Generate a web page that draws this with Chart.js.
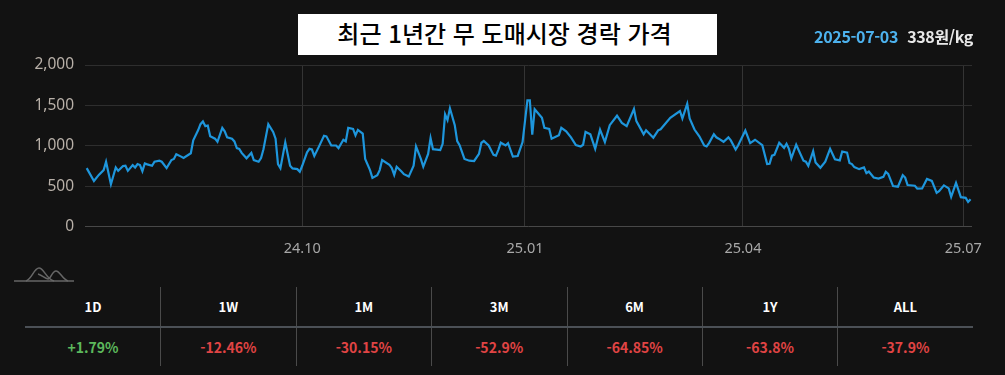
<!DOCTYPE html>
<html lang="ko">
<head>
<meta charset="utf-8">
<script src="https://cdn.jsdelivr.net/npm/chart.js@4"></script>
<style>
  html, body { margin: 0; padding: 0; background: #121212; }
  body { width: 1005px; height: 375px; position: relative; overflow: hidden; font-family: "Noto Sans CJK KR", "Noto Sans", sans-serif; }
  #priceChart { position: absolute; left: 0; top: 0; }
  #title { position: absolute; left: 298px; top: 14px; width: 413px; padding-right: 6px; height: 41px; background: #fff; color: #000; font-size: 24px; font-weight: 500; line-height: 38px; text-align: center; }
  #latest { position: absolute; right: 32px; top: 26px; font-size: 16px; line-height: 20px; font-weight: 700; letter-spacing: -0.35px; color: #e8e8e8; }
  #latest span { color: #4db2ee; margin-right: 5px; }
  #logo { position: absolute; left: 14px; top: 265px; }
  #periods { position: absolute; left: 25px; top: 287px; width: 948px; height: 79px; }
  .cell { position: absolute; top: 0; width: 136px; height: 79px; text-align: center; }
  .cell + .cell::before { content: ""; position: absolute; left: 0; top: 0; width: 1px; height: 79px; background: #4a4a4a; }
  .cell b { display: block; height: 40px; line-height: 40px; font-size: 13px; color: #fff; }
  .cell i { display: block; font-style: normal; font-weight: 700; height: 39px; line-height: 41px; font-size: 14px; }
  #rule { position: absolute; left: 25px; top: 326px; width: 948px; height: 2px; background: #4b5056; }
</style>
</head>
<body>
<canvas id="priceChart" width="1005" height="280"></canvas>
<div id="title">최근 1년간 무 도매시장 경락 가격</div>
<div id="latest"><span>2025-07-03</span> 338원/kg</div>
<svg id="logo" width="62" height="18" viewBox="0 0 62 18" fill="none" stroke="#666" stroke-width="1.5">
  <path d="M0 16H60"/>
  <path d="M12 16C18 14 20 3 25 3C30 3 32 14 40 16"/>
  <path d="M24 9C28 10 31 14 34 14C37 14 38 6 42 6C46 6 48 14 54 16"/>
</svg>
<div id="periods"></div>
<div id="rule"></div>
<script>
// days counted from the first quote, 2024-07-04
const days = [0,3,5,7,8,10,12,13,15,16,17,19,20,21,22,23,24,25,27,28,30,31,33,35,36,37,39,40,43,44,46,47,48,49,50,51,53,54,56,57,58,60,61,62,63,64,66,68,69,71,72,73,75,77,78,79,80,82,84,85,87,88,89,91,92,93,94,96,98,99,101,103,104,106,107,108,110,111,112,114,115,117,118,120,121,122,125,126,127,128,130,131,133,135,136,138,139,141,142,143,146,147,148,149,150,152,153,154,156,158,160,162,163,164,166,168,169,170,171,173,174,176,178,180,182,183,184,185,188,189,191,192,195,196,198,200,202,204,205,206,208,210,212,214,216,219,221,223,226,227,230,231,234,236,237,241,245,246,248,249,251,253,255,256,257,259,260,261,263,265,266,268,269,272,274,276,279,281,282,283,284,286,287,288,289,290,291,293,296,297,298,300,301,303,305,307,309,311,312,314,315,316,317,319,321,322,323,325,327,329,330,331,333,335,337,338,339,342,343,345,347,349,351,352,354,356,357,359,361,363,364,365];
const prices = [724,565,640,699,803,523,732,690,749,753,690,761,732,774,761,686,782,770,753,803,816,803,724,824,837,895,866,849,908,1067,1192,1268,1301,1243,1251,1117,1088,1050,1222,1180,1105,1088,1054,971,962,912,845,912,824,803,849,958,1268,1172,1088,774,724,1042,753,720,711,678,753,920,962,954,874,996,1125,1117,1004,1004,971,1075,1054,1222,1209,1130,1197,1151,837,699,603,636,699,824,766,724,640,741,682,649,619,753,992,837,741,900,1096,958,946,1025,1389,1318,1464,1255,1059,1008,837,816,812,900,1038,1059,1004,887,879,950,1038,1004,1033,866,874,1046,1561,1561,1138,1452,1347,1222,1209,1088,1130,1222,1180,1105,1008,992,1013,1172,1142,962,1201,1046,1255,1372,1284,1243,1456,1305,1142,1192,1100,1192,1205,1347,1431,1339,1519,1339,1201,1117,1004,992,1033,1142,1105,1088,1050,1105,1067,954,1004,1188,1033,1075,1008,774,778,879,887,1038,1008,975,1025,962,845,1013,816,803,753,933,795,728,803,962,833,820,929,916,787,774,736,711,732,661,682,607,594,615,678,653,502,494,636,607,515,506,469,473,590,565,418,439,510,473,368,540,364,356,305,338];
const xTickDays = [89,181,271,362];
const xTickLabels = ['24.10','25.01','25.04','25.07'];
const yTicks = [0,500,1000,1500,2000];
const periodLabels = ['1D','1W','1M','3M','6M','1Y','ALL'];
const periodChanges = ['+1.79%','-12.46%','-30.15%','-52.9%','-64.85%','-63.8%','-37.9%'];

new Chart(document.getElementById('priceChart').getContext('2d'), {
  type: 'line',
  data: {
    datasets: [{
      data: days.map((d, i) => ({ x: d, y: prices[i] })),
      borderColor: '#1e96dc',
      borderWidth: 2.2,
      pointRadius: 0,
      tension: 0,
      fill: false
    }]
  },
  options: {
    responsive: false,
    animation: false,
    layout: { padding: { left: 0, right: 33, top: 65, bottom: 8 } },
    plugins: { legend: { display: false }, tooltip: { enabled: false } },
    scales: {
      x: {
        type: 'linear',
        min: -0.7,
        max: 365.6,
        afterBuildTicks: axis => { axis.ticks = xTickDays.map(v => ({ value: v })); },
        grid: { color: '#343434', drawTicks: false },
        border: { display: false },
        ticks: {
          autoSkip: false, maxRotation: 0, padding: 14,
          color: '#a8a8a8',
          font: { family: '"Noto Sans", sans-serif', size: 14.5 },
          callback: v => xTickLabels[xTickDays.indexOf(v)]
        }
      },
      y: {
        min: 0,
        max: 2000,
        afterBuildTicks: axis => { axis.ticks = yTicks.map(v => ({ value: v })); },
        afterFit: axis => { axis.width = 85; },
        grid: { color: ctx => ctx.tick.value === 0 ? '#484848' : '#2e2e2e', drawTicks: false },
        border: { display: false },
        ticks: {
          padding: 11,
          color: '#b8b0a8',
          font: { family: '"Noto Sans", sans-serif', size: 15.5 },
          callback: v => v.toLocaleString('en-US')
        }
      }
    }
  }
});

const periods = document.getElementById('periods');
periodLabels.forEach((label, i) => {
  const cell = document.createElement('div');
  cell.className = 'cell';
  cell.style.left = (i * 135.4) + 'px';
  const col = periodChanges[i][0] === '+' ? '#5cb85c' : '#e04444';
  cell.innerHTML = '<b>' + label + '</b><i style="color:' + col + '">' + periodChanges[i] + '</i>';
  periods.appendChild(cell);
});
</script>
</body>
</html>
